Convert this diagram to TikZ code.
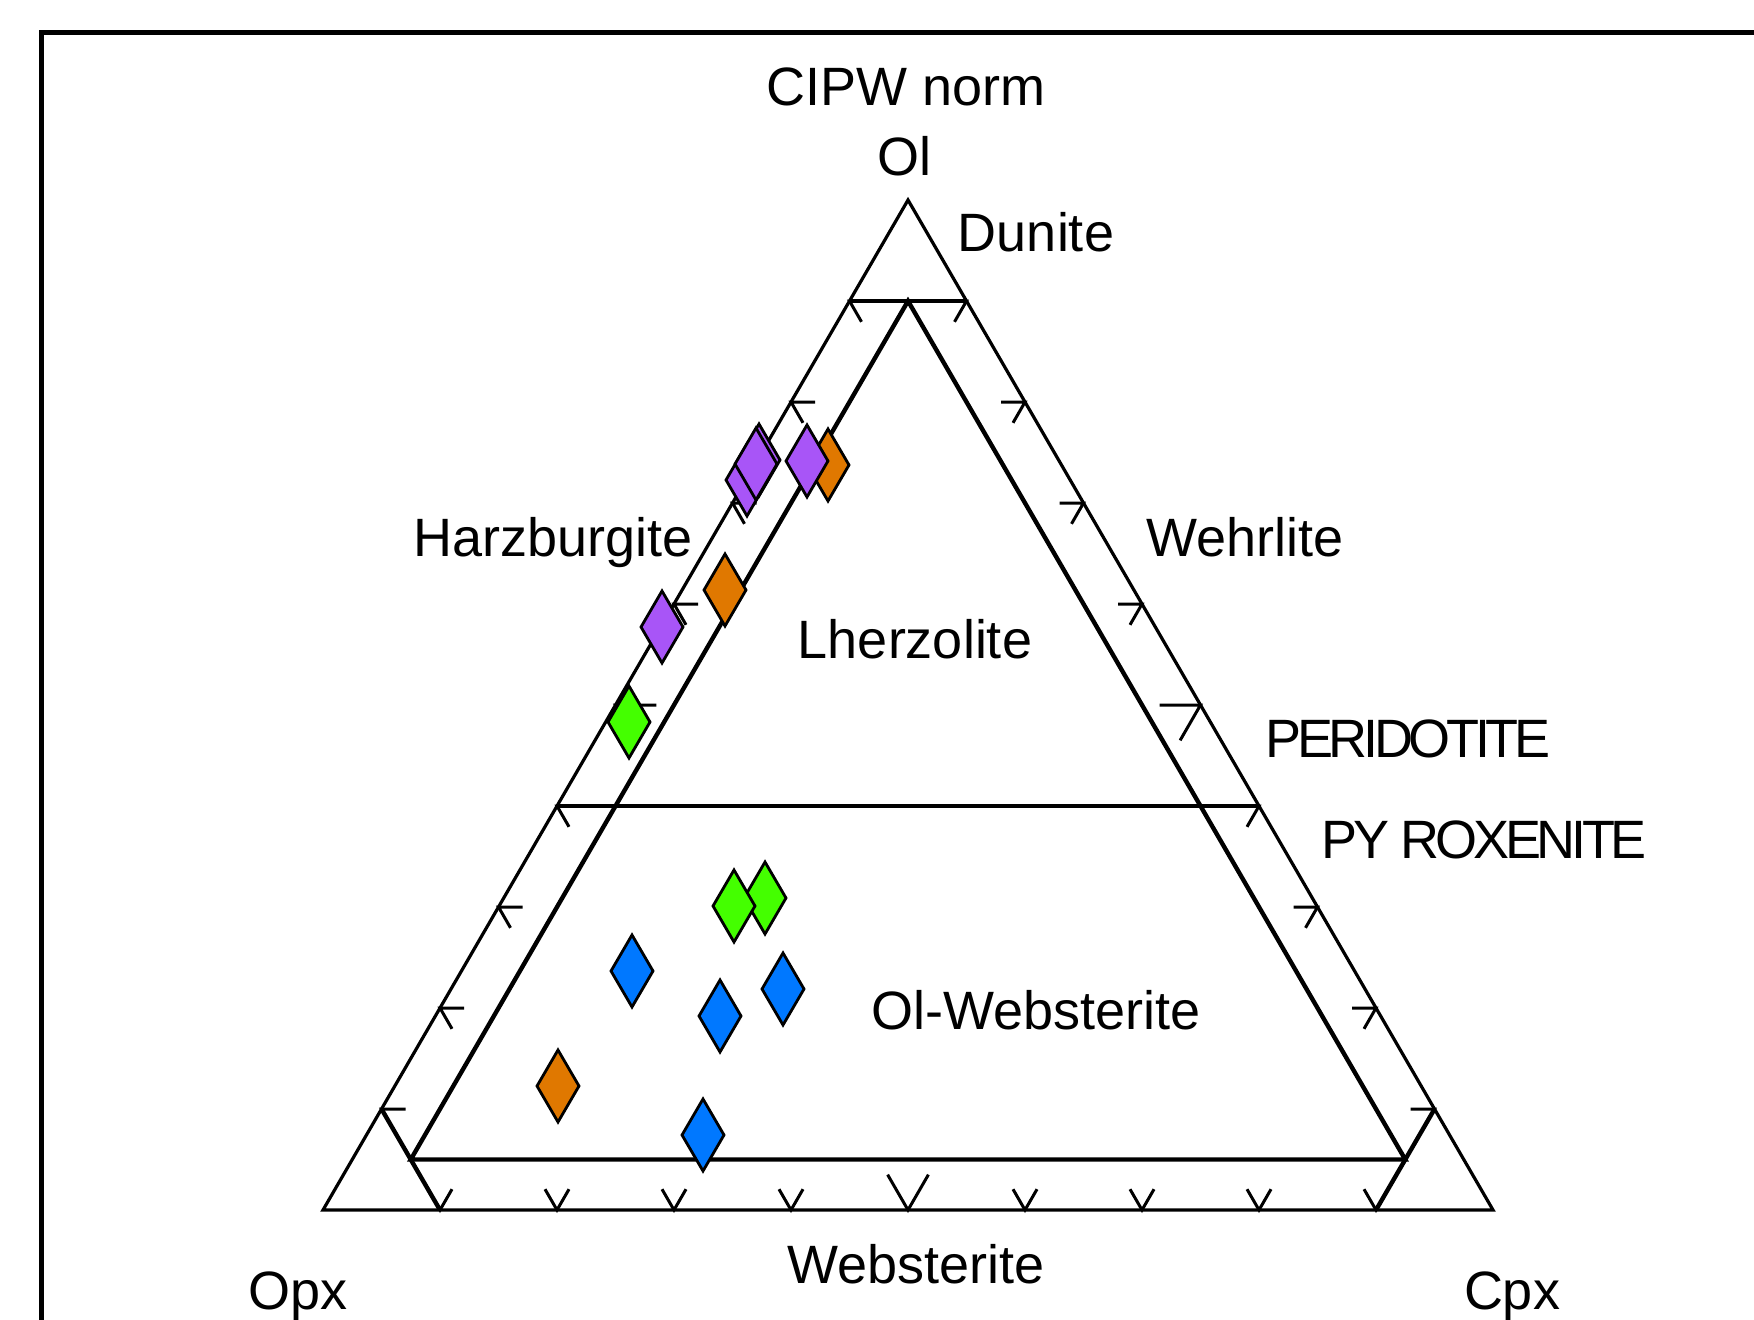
\documentclass[tikz,border=0pt]{standalone}
\usepackage{fontspec}
\setmainfont{Liberation Sans}
\usetikzlibrary{shapes.geometric}
\definecolor{cpurple}{RGB}{168,85,247}
\definecolor{corange}{RGB}{224,120,0}
\definecolor{cgreen}{RGB}{68,255,0}
\definecolor{cblue}{RGB}{0,120,255}
\tikzset{
  outerline/.style={line width=1.6pt, line join=miter},
  thickline/.style={line width=2.2pt},
  tickline/.style={line width=1.5pt},
  frameline/.style={line width=2.5pt},
  sample/.style={shape=diamond, draw=black, line width=1.4pt, inner sep=0pt, outer sep=0pt,
     minimum width=21pt, minimum height=36pt},
  lbl/.style={anchor=base, inner sep=0pt, font=\fontsize{27}{32}\selectfont},
}
\begin{document}
\begin{tikzpicture}[x=0.5pt,y=-0.5pt]
\useasboundingbox (0,0) rectangle (1754,1320);
\clip (0,0) rectangle (1754,1320);
% frame
\draw[frameline] (41.5,1340) -- (41.5,32.5) -- (1780,32.5);
% corners
\coordinate (Ol) at (908,200);
\coordinate (Opx) at (323,1210);
\coordinate (Cpx) at (1493,1210);
\draw[outerline] (Ol) -- (Opx) -- (Cpx) -- cycle;
% inner boundaries
\coordinate (D1) at (849.5,301);
\coordinate (D2) at (966.5,301);
\coordinate (Dm) at (908,301);
\coordinate (P1) at (557,806);
\coordinate (P2) at (1259,806);
\coordinate (W1) at (410.75,1159.5);
\coordinate (W2) at (1405.25,1159.5);
\coordinate (O1) at (381.5,1109);
\coordinate (O2) at (440,1210);
\coordinate (C1) at (1434.5,1109);
\coordinate (C2) at (1376,1210);
\draw[thickline] (D1) -- (D2);
\draw[thickline] (P1) -- (P2);
\draw[thickline] (Dm) -- (W1) -- (W2) -- cycle;
\draw[thickline] (O1) -- (O2);
\draw[thickline] (C1) -- (C2);
% ticks
\foreach \k in {1,...,9}{
  \pgfmathsetmacro{\a}{\k/10}
  \pgfmathsetmacro{\s}{ifthenelse(\k==5,1.7,1)}
  \pgfmathsetmacro{\lx}{323+585*\a}
  \pgfmathsetmacro{\rx}{1493-585*\a}
  \pgfmathsetmacro{\yy}{1210-1010*\a}
  \pgfmathsetmacro{\bx}{323+117*\k}
  \draw[tickline] (\lx+24*\s,\yy) -- (\lx,\yy) -- (\lx+12*\s,\yy+20.8*\s);
  \draw[tickline] (\rx-24*\s,\yy) -- (\rx,\yy) -- (\rx-12*\s,\yy+20.8*\s);
  \draw[tickline] (\bx-12*\s,1210-20.8*\s) -- (\bx,1210) -- (\bx+12*\s,1210-20.8*\s);
}
% samples
\node[sample, fill=corange] (s1) at (828,465) {};
\node[sample, fill=cpurple] (s4) at (747,480) {};
\node[sample, fill=cpurple] (s2) at (759,460) {};
\node[sample, fill=cpurple] (s3) at (756,464) {};
\node[sample, fill=cpurple] (s5) at (807,461) {};
\node[sample, fill=corange] (s6) at (725,590) {};
\node[sample, fill=cpurple] (s7) at (662,627) {};
\node[sample, fill=cgreen] (s8) at (629,722) {};
\node[sample, fill=cgreen] (s9) at (765,898) {};
\node[sample, fill=cgreen] (s10) at (734,906) {};
\node[sample, fill=cblue] (s11) at (632,971) {};
\node[sample, fill=cblue] (s12) at (783,989) {};
\node[sample, fill=cblue] (s13) at (720,1016) {};
\node[sample, fill=corange] (s14) at (558,1086) {};
\node[sample, fill=cblue] (s15) at (703,1135) {};
% labels
\node[lbl] (t1) at (906,105.5) {CIPW norm};
\node[lbl] (t2) at (904,176) {Ol};
\node[lbl] (t3) at (1036,252) {Dunite};
\node[lbl] (t4) at (553,556) {Harzburgite};
\node[lbl] (t5) at (1245,556) {Wehrlite};
\node[lbl] (t6) at (915,658) {Lherzolite};
\node[lbl] (t7) at (1408,757) {\addfontfeature{LetterSpace=-8}PERIDOTITE};
\node[lbl] (t8) at (1484,858) {\addfontfeature{LetterSpace=-8}PY\kern6pt ROXENITE};
\node[lbl] (t9) at (1036,1029) {Ol-Websterite};
\node[lbl] (t10) at (916,1283) {Websterite};
\node[lbl] (t11) at (298,1309) {Opx};
\node[lbl] (t12) at (1512,1309) {Cpx};
\end{tikzpicture}
\end{document}
